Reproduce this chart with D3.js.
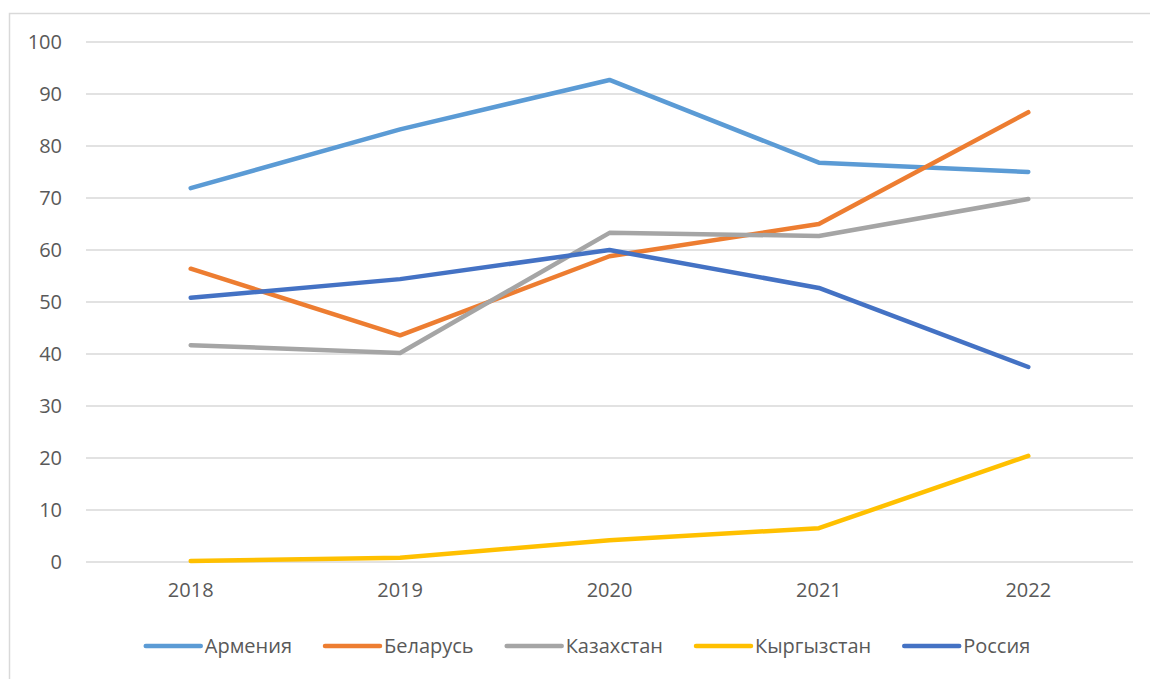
<!DOCTYPE html>
<html>
<head>
<meta charset="utf-8">
<script src="https://cdn.jsdelivr.net/npm/d3@7"></script>
<style>
  body { margin: 0; background: #fff; }
  text { font-family: "Open Sans", "Noto Sans", sans-serif; fill: #595959; }
</style>
</head>
<body>
<div id="chart"></div>
<script>
// datos
const years = ["2018", "2019", "2020", "2021", "2022"]
const armenia = [71.9, 83.2, 92.7, 76.8, 75.0]
const belarus = [56.4, 43.6, 58.8, 65.0, 86.5]
const kazakhstan = [41.7, 40.2, 63.3, 62.7, 69.8]
const kyrgyzstan = [0.2, 0.8, 4.2, 6.5, 20.4]
const russia = [50.8, 54.4, 60.0, 52.7, 37.5]
const seriesNames = ["Армения", "Беларусь", "Казахстан", "Кыргызстан", "Россия"]
const seriesColors = ["#5B9BD5", "#ED7D31", "#A5A5A5", "#FFC000", "#4472C4"]
const yTicks = [0, 10, 20, 30, 40, 50, 60, 70, 80, 90, 100]

const series = [armenia, belarus, kazakhstan, kyrgyzstan, russia].map((v, i) => ({
    name: seriesNames[i], color: seriesColors[i], values: v
}))

// constantes
const width = 1150
const height = 679
const margin = { top: 42, bottom: 117, left: 86, right: 17 }
const fontSize = 20

const svg = d3.select("#chart").append("svg").attr("width", width).attr("height", height)

// borde
svg.append("rect").attr("x", 9.5).attr("y", 13.5).attr("width", 1160).attr("height", 700)
    .attr("fill", "none").attr("stroke", "#D9D9D9").attr("stroke-width", 1.5)

const x = d3.scaleBand().domain(years).range([margin.left, width - margin.right])
const y = d3.scaleLinear().domain([0, 100]).range([height - margin.bottom, margin.top])

// rejilla
svg.append("g").selectAll("line").data(yTicks).join("line")
    .attr("x1", margin.left).attr("x2", width - margin.right)
    .attr("y1", d => y(d)).attr("y2", d => y(d))
    .attr("stroke", "#D9D9D9").attr("stroke-width", 1.5)

// ejes
const yAxis = d3.axisLeft(y).tickValues(yTicks).tickSize(0).tickPadding(24)
svg.append("g").attr("transform", `translate(${margin.left}, 0)`).call(yAxis)
    .call(g => g.select(".domain").remove())
    .selectAll("text").attr("font-size", fontSize).style("font-family", null)

const xAxis = d3.axisBottom(x).tickSize(0).tickPadding(21)
svg.append("g").attr("transform", `translate(0, ${height - margin.bottom})`).call(xAxis)
    .call(g => g.select(".domain").remove())
    .selectAll("text").attr("font-size", fontSize).style("font-family", null)

// lineas
const line = d3.line().x((d, i) => x(years[i]) + x.bandwidth() / 2).y(d => y(d))
svg.append("g").selectAll("path").data(series).join("path")
    .attr("d", d => line(d.values))
    .attr("fill", "none").attr("stroke", d => d.color).attr("stroke-width", 4.5)
    .attr("stroke-linecap", "round").attr("stroke-linejoin", "round")

// leyenda
const legend = svg.append("g")
const items = legend.selectAll("g").data(series).join("g")
items.append("line").attr("x1", 0).attr("x2", 55).attr("y1", 0).attr("y2", 0)
    .attr("stroke", d => d.color).attr("stroke-width", 4.5).attr("stroke-linecap", "round")
items.append("text").attr("x", 59).attr("y", 7).attr("font-size", fontSize).text(d => d.name)
const gap = 33
let pos = 0
items.each(function() {
    const w = this.getBBox().width
    d3.select(this).attr("transform", `translate(${pos}, 0)`)
    pos += w + gap
})
const total = pos - gap
legend.attr("transform", `translate(${588 - total / 2}, 646)`)
</script>
</body>
</html>
